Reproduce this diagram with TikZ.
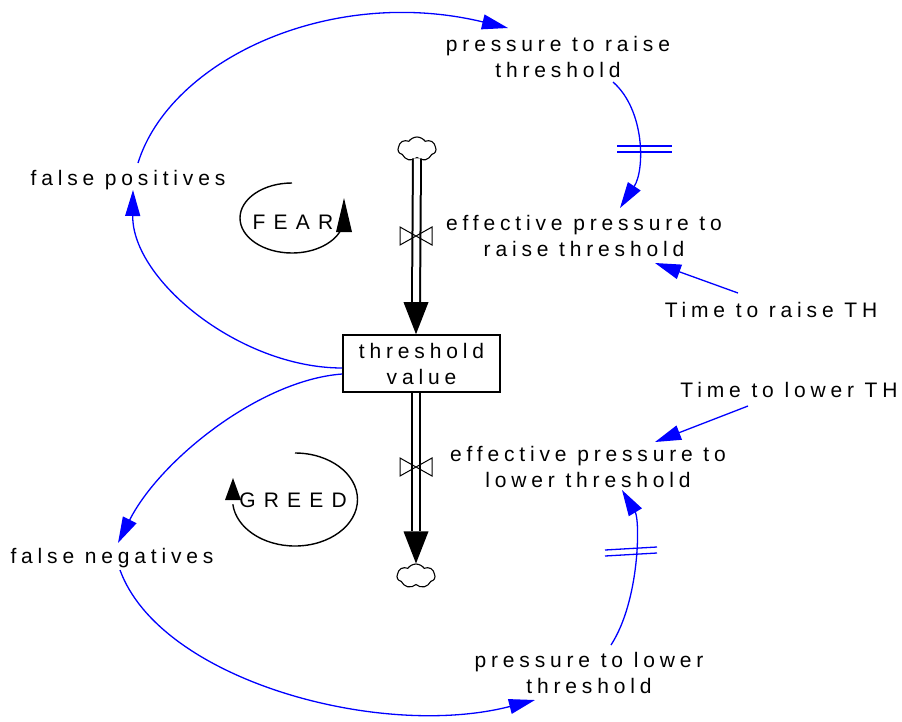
\documentclass[tikz,border=0pt]{standalone}
\usepackage{fontspec}
\setmainfont{Liberation Sans}[LetterSpace=23]
\newfontfamily\loopfont{Liberation Sans}[LetterSpace=39]
\usetikzlibrary{arrows.meta,shapes.symbols,calc}
\begin{document}
\begin{tikzpicture}[x=1pt,y=-1pt,
  lbl/.style={align=center, inner sep=0pt, font=\fontsize{21}{26}\selectfont},
  looplbl/.style={inner sep=0pt, font=\loopfont\fontsize{21}{26}\selectfont},
  link/.style={draw=blue, line width=1.3pt, -{Triangle[length=26pt,width=15pt]}},
  delay/.style={draw=blue, line width=1.3pt},
  pipe/.style={double distance=6pt, line width=2pt, draw=black},
  valve/.style={draw=black, line width=1pt},
  loopline/.style={draw=black, line width=1.4pt},
  cloudnode/.style={cloud, cloud puffs=7, cloud puff arc=110, draw, line width=1.1pt, minimum width=38pt, minimum height=24pt, inner sep=0pt, aspect=1.6},
  stockbox/.style={draw, line width=1.6pt, minimum width=157pt, minimum height=57pt, inner sep=0pt, align=center, font=\fontsize{21}{26}\selectfont}
]
\useasboundingbox (0,0) rectangle (902,721);

% nodes
\node[lbl] (PR) at (558,57) {pressure to raise\\threshold};
\node[lbl] (FP) at (128,180) {false positives};
\node[lbl] (EPR) at (584,235.5) {effective pressure to\\raise threshold};
\node[lbl] (TR) at (771,310) {Time to raise TH};
\node[stockbox] (TV) at (421.5,363.5) {threshold\\value};
\node[lbl] (TL) at (789,390) {Time to lower TH};
\node[lbl] (EPL) at (588,467) {effective pressure to\\lower threshold};
\node[lbl] (FN) at (112,558) {false negatives};
\node[lbl] (PL) at (589,673) {pressure to lower\\threshold};
\node[looplbl] (FEAR) at (293,222) {FEAR};
\node[looplbl] (GREED) at (293,500) {GREED};

\node[cloudnode] (CT) at (417,149) {};
\node[cloudnode] (CB) at (416,576) {};

% flows
\draw[pipe] (CT.south) -- ([xshift=-5.5pt,yshift=32pt]TV.north);
\fill ([xshift=-5.5pt]TV.north) -- ++(-12.5,-32) -- ++(25,0) -- cycle;
\draw[valve] (416,236) +(-16,-9) -- +(-16,9) -- +(16,-9) -- +(16,9) -- cycle;

\draw[pipe] ([xshift=-5.5pt]TV.south) -- ([yshift=32pt]CB.north);
\fill (CB.north) -- ++(-12.5,-32) -- ++(25,0) -- cycle;
\draw[valve] (416,467) +(-16,-9) -- +(-16,9) -- +(16,-9) -- +(16,9) -- cycle;

% links
\draw[link] ($(FP)+(10,-17)$) .. controls (170,60) and (330,-15) .. ($(PR)+(-50,-29)$);
\draw[link] ($(TV.west)+(0,4.5)$) .. controls (240,368) and (132,280) .. ($(FP)+(5,10)$);
\draw[link] ($(TV.west)+(0,10.5)$) .. controls (260,380) and (160,460) .. ($(FN)+(6,-15)$);
\draw[link] ($(FN)+(8,12)$) .. controls (160,680) and (380,740) .. ($(PL)+(-54,27)$);
\draw[link] ($(PL)+(22,-28)$) .. controls (640,600) and (640,520) .. ($(EPL)+(34,23)$);
\draw[link] ($(PR)+(55,25)$) .. controls (645,110) and (645,170) .. ($(EPR)+(36,-27.5)$);
\draw[link] ($(TR)+(-33,-17)$) -- ($(EPR)+(71,27.5)$);
\draw[link] ($(TL)+(-41,16)$) -- ($(EPL)+(67,-25)$);

% delay marks
\draw[delay] (617,146) -- (672,146);
\draw[delay] (617,152) -- (672,152);
\draw[delay] (605,550) -- (657,547);
\draw[delay] (605,556) -- (657,553);

% loop markers
\draw[loopline] (292,183) arc[start angle=90, end angle=345, x radius=52pt, y radius=35pt];
\fill (344,198) -- (336,232) -- (352,232) -- cycle;
\draw[loopline] (295,453) arc[start angle=90, end angle=-174, x radius=62.5pt, y radius=46.5pt];
\fill (233,478) -- (225,500) -- (241,500) -- cycle;
\end{tikzpicture}
\end{document}
